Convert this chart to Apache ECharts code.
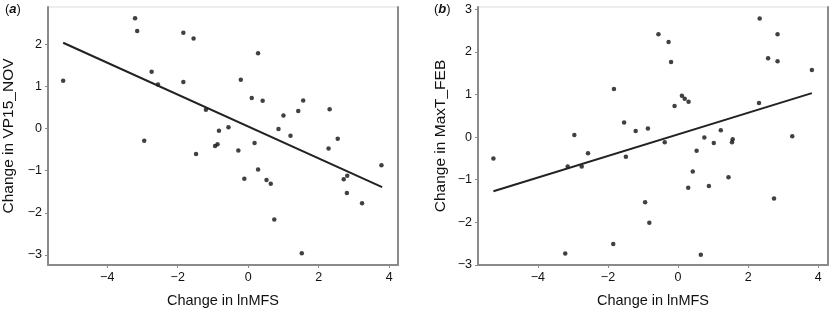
<!DOCTYPE html>
<html>
<head>
<meta charset="utf-8">
<script src="https://cdn.jsdelivr.net/npm/echarts@6/dist/echarts.min.js"></script>
<style>
  html, body { margin: 0; padding: 0; background: #fff; }
  #chart { width: 831px; height: 313px; }
</style>
</head>
<body>
<div id="chart"></div>
<script>
// panel (a): change in lnMFS vs change in VP15_NOV
const pointsA = [
  [-5.25, 1.14], [-3.21, 2.62], [-3.15, 2.32], [-2.95, -0.29], [-2.74, 1.35],
  [-2.56, 1.05], [-1.84, 2.28], [-1.84, 1.11], [-1.55, 2.14], [-1.48, -0.60],
  [-1.20, 0.45], [-0.94, -0.41], [-0.87, -0.37], [-0.83, -0.05], [-0.56, 0.03],
  [-0.28, -0.52], [-0.21, 1.16], [0.10, 0.73], [0.18, -0.34], [0.28, 1.79],
  [0.41, 0.66], [0.86, -0.01], [1.00, 0.31], [1.20, -0.17], [1.42, 0.42],
  [1.56, 0.67], [2.31, 0.46], [2.28, -0.47], [2.54, -0.24], [3.78, -0.87],
  [-0.11, -1.19], [0.28, -0.97], [0.52, -1.22], [0.64, -1.31], [2.71, -1.20],
  [2.81, -1.12], [2.80, -1.53], [3.23, -1.77], [0.74, -2.16], [1.52, -2.96]
];
const fitA = [[-5.25, 2.04], [3.80, -1.39]];

// panel (b): change in lnMFS vs change in MaxT_FEB
const pointsB = [
  [-5.27, -0.50], [-2.96, 0.05], [-2.57, -0.38], [-1.83, 1.13], [-1.54, 0.34],
  [-1.49, -0.46], [-1.21, 0.14], [-0.86, 0.20], [-0.56, 2.41], [-0.38, -0.12],
  [-0.27, 2.23], [-0.20, 1.76], [-0.10, 0.73], [0.11, 0.97], [0.19, 0.90],
  [0.30, 0.83], [0.53, -0.32], [0.75, -0.01], [1.02, -0.14], [1.22, 0.16],
  [1.56, -0.05], [1.54, -0.12], [2.33, 2.78], [2.31, 0.80], [2.57, 1.85],
  [2.84, 2.41], [2.84, 1.78], [3.26, 0.02], [3.82, 1.57], [-3.15, -0.69],
  [-2.75, -0.69], [0.42, -0.81], [1.44, -0.94], [0.29, -1.19], [0.88, -1.15],
  [-0.94, -1.53], [2.74, -1.44], [-0.82, -2.01], [-1.85, -2.51], [-3.22, -2.73],
  [0.65, -2.76]
];
const fitB = [[-5.27, -1.27], [3.82, 1.03]];

const xTicks = [-4, -2, 0, 2, 4];
const yTicksA = [-3, -2, -1, 0, 1, 2];
const yTicksB = [-3, -2, -1, 0, 1, 2, 3];
const xName = 'Change in lnMFS';
const yNameA = 'Change in VP15_NOV';
const yNameB = 'Change in MaxT_FEB';

const fontFamily = '"Liberation Sans", Arial, sans-serif';
const axisGray = '#8a8a8a';

function minusFmt(v) {
  return String(v).replace('-', '\u2212');
}

function makeX(gridIndex, min, max) {
  return {
    type: 'value', gridIndex: gridIndex, min: min, max: max,
    name: xName, nameLocation: 'middle', nameGap: 28,
    nameTextStyle: { fontSize: 14.5, color: '#111', fontFamily: fontFamily },
    axisLine: { show: true, onZero: false, lineStyle: { color: axisGray, width: 2 } },
    axisTick: { show: true, length: 3, customValues: xTicks, lineStyle: { color: axisGray } },
    axisLabel: { customValues: xTicks, formatter: minusFmt, fontSize: 12.5, color: '#111', margin: 6, fontFamily: fontFamily },
    splitLine: { show: false }
  };
}

function makeY(gridIndex, min, max, ticks, name, gap) {
  return {
    type: 'value', gridIndex: gridIndex, min: min, max: max,
    name: name, nameLocation: 'middle', nameGap: gap, nameRotate: 90,
    nameTextStyle: { fontSize: 15.5, color: '#111', fontFamily: fontFamily },
    axisLine: { show: true, onZero: false, lineStyle: { color: axisGray, width: 2 } },
    axisTick: { show: true, length: 3, customValues: ticks, lineStyle: { color: axisGray } },
    axisLabel: { customValues: ticks, formatter: minusFmt, fontSize: 12.5, color: '#111', margin: 6, fontFamily: fontFamily },
    splitLine: { show: false }
  };
}

// right border of each frame
function makeRight(gridIndex, min, max) {
  return {
    type: 'value', gridIndex: gridIndex, min: min, max: max, position: 'right',
    axisLine: { show: true, onZero: false, lineStyle: { color: axisGray, width: 2 } },
    axisTick: { show: false }, axisLabel: { show: false }, splitLine: { show: false }
  };
}

const chart = echarts.init(document.getElementById('chart'), null, { renderer: 'canvas' });

chart.setOption({
  backgroundColor: '#fff',
  animation: false,
  textStyle: { fontFamily: fontFamily },
  title: [
    { text: '({i|a})', left: 0, top: -2, textStyle: { fontSize: 13, fontWeight: 'normal', color: '#111', rich: { i: { fontStyle: 'italic', fontWeight: 'bold', fontSize: 13, color: '#111' } } } },
    { text: '({i|b})', left: 429, top: -2, textStyle: { fontSize: 13, fontWeight: 'normal', color: '#111', rich: { i: { fontStyle: 'italic', fontWeight: 'bold', fontSize: 13, color: '#111' } } } }
  ],
  grid: [
    { left: 48, right: 433, top: 7, bottom: 45, show: true, borderColor: '#dcdcdc', borderWidth: 1 },
    { left: 478, right: 3, top: 7, bottom: 45, show: true, borderColor: '#dcdcdc', borderWidth: 1 }
  ],
  xAxis: [makeX(0, -5.68, 4.25), makeX(1, -5.71, 4.28)],
  yAxis: [
    makeY(0, -3.24, 2.89, yTicksA, yNameA, 31),
    makeY(1, -3, 3.05, yTicksB, yNameB, 29),
    makeRight(0, -3.24, 2.89),
    makeRight(1, -3, 3.05)
  ],
  series: [
    { type: 'scatter', xAxisIndex: 0, yAxisIndex: 0, data: pointsA, symbolSize: 4.5, itemStyle: { color: '#111' } },
    { type: 'line', xAxisIndex: 0, yAxisIndex: 0, data: fitA, symbol: 'none', lineStyle: { color: '#222', width: 2 } },
    { type: 'scatter', xAxisIndex: 1, yAxisIndex: 1, data: pointsB, symbolSize: 4.5, itemStyle: { color: '#111' } },
    { type: 'line', xAxisIndex: 1, yAxisIndex: 1, data: fitB, symbol: 'none', lineStyle: { color: '#222', width: 2 } }
  ]
});
</script>
</body>
</html>
